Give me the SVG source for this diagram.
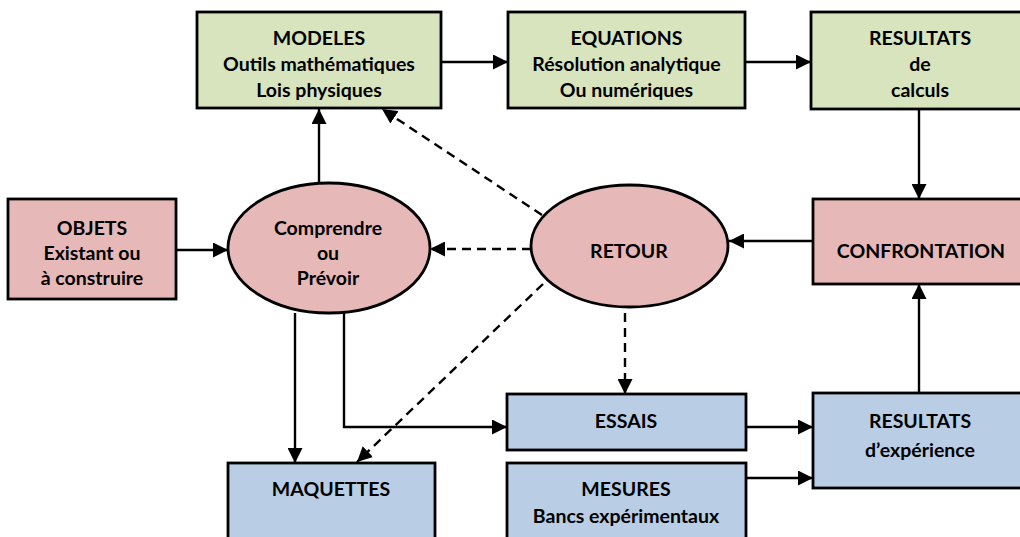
<svg xmlns="http://www.w3.org/2000/svg" width="1020" height="537" viewBox="0 0 1020 537">
<style>
text{font-family:Lato,"Liberation Sans",sans-serif;font-weight:bold;font-size:19.5px;fill:#000;text-anchor:middle;dominant-baseline:central}
.g{fill:#d7e4bd;stroke:#000;stroke-width:2.8}
.p{fill:#e6b9b8;stroke:#000;stroke-width:2.8}
.b{fill:#b9cde5;stroke:#000;stroke-width:2.8}
.c{fill:none;stroke:#000;stroke-width:2.4;marker-end:url(#ah)}
.d{fill:none;stroke:#000;stroke-width:2.4;stroke-dasharray:9 6;marker-end:url(#ah)}
</style>
<defs>
<marker id="ah" viewBox="0 0 15 15" refX="15" refY="7.5" markerWidth="15" markerHeight="15" markerUnits="userSpaceOnUse" orient="auto"><path d="M0,0L15,7.5L0,15z" fill="#000"/></marker>
</defs>
<rect width="1020" height="537" fill="#fff"/>
<g id="connectors">
<path class="c" d="M441,62H508"/>
<path class="c" d="M745,62H811"/>
<path class="c" d="M919,109V199"/>
<path class="c" d="M813,241H729"/>
<path class="c" d="M919,393V284"/>
<path class="c" d="M176,250H228"/>
<path class="c" d="M319,183V109"/>
<path class="c" d="M295,313V463"/>
<path class="c" d="M344,313V427H507"/>
<path class="c" d="M746,427H813"/>
<path class="c" d="M746,478H813"/>
<path class="d" d="M531,249H430"/>
<path class="d" d="M542,215L382,109"/>
<path class="d" d="M543,284L357,462"/>
<path class="d" d="M625,313V394"/>
</g>
<g id="modeles"><rect class="g" x="197" y="12" width="244" height="96"/>
<text x="319" y="37">MODELES</text><text x="319" y="63">Outils mathématiques</text><text x="319" y="89">Lois physiques</text></g>
<g id="equations"><rect class="g" x="508" y="12" width="237" height="96"/>
<text x="626.5" y="37">EQUATIONS</text><text x="626.5" y="63">Résolution analytique</text><text x="626.5" y="89">Ou numériques</text></g>
<g id="resultats-calculs"><rect class="g" x="811" y="12" width="218" height="97"/>
<text x="920" y="37">RESULTATS</text><text x="920" y="63">de</text><text x="920" y="89">calculs</text></g>
<g id="objets"><rect class="p" x="8" y="199" width="168" height="100"/>
<text x="92" y="227">OBJETS</text><text x="92" y="252">Existant ou</text><text x="92" y="277">à construire</text></g>
<g id="comprendre"><ellipse class="p" cx="329" cy="248" rx="101" ry="65"/>
<text x="328" y="227">Comprendre</text><text x="328" y="252">ou</text><text x="328" y="277">Prévoir</text></g>
<g id="retour"><ellipse class="p" cx="629.5" cy="246" rx="98.5" ry="61"/>
<text x="629" y="250">RETOUR</text></g>
<g id="confrontation"><rect class="p" x="813" y="199" width="216" height="85"/>
<text x="921" y="250">CONFRONTATION</text></g>
<g id="essais"><rect class="b" x="507" y="394" width="239" height="56"/>
<text x="626" y="420">ESSAIS</text></g>
<g id="resultats-experience"><rect class="b" x="813" y="393" width="216" height="95"/>
<text x="920" y="420">RESULTATS</text><text x="920" y="449">d’expérience</text></g>
<g id="maquettes"><rect class="b" x="228" y="463" width="207" height="90"/>
<text x="331" y="488">MAQUETTES</text></g>
<g id="mesures"><rect class="b" x="507" y="463" width="239" height="90"/>
<text x="626" y="488">MESURES</text><text x="626" y="515">Bancs expérimentaux</text></g>
</svg>
